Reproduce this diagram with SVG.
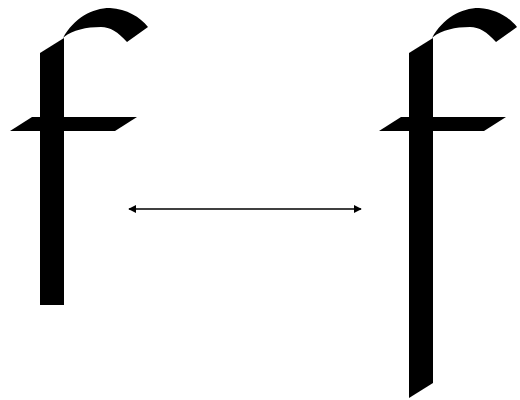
<svg xmlns="http://www.w3.org/2000/svg" width="520" height="400" viewBox="0 0 520 400">
<defs>
<style>.g{fill:#000;stroke:none}.c{stroke:#000;stroke-width:1.3;fill:none}</style>
<marker id="ah" viewBox="0 0 10 10" refX="9" refY="5" markerWidth="8" markerHeight="8" markerUnits="userSpaceOnUse" orient="auto-start-reverse"><path d="M0,0 L10,5 L0,10 Z" fill="#000"/></marker>
</defs>
<rect width="520" height="400" fill="#fff"/>
<g id="f-short">
<path class="g" d="M40,305 L40,53 L64,38 L64,305 Z"/>
<path class="g" d="M63,38 C74,18 92,8 110,8 C127,9 140,17 148,27 L127,42 C118,32 110,27 101,27 C86,27 73,30 64,37 Z"/>
<path class="g" d="M10,131 L32,117 L137,117 L115,131 Z"/>
</g>
<g id="f-long">
<path class="g" d="M409,398 L409,53 L433,38 L433,383 Z"/>
<path class="g" d="M432,38 C443,18 461,8 479,8 C496,9 509,17 517,27 L496,42 C487,32 479,27 470,27 C455,27 442,30 433,37 Z"/>
<path class="g" d="M379,131 L401,117 L506,117 L484,131 Z"/>
</g>
<g id="connectors">
<line class="c" x1="129" y1="209" x2="361" y2="209" marker-start="url(#ah)" marker-end="url(#ah)"/>
</g>
</svg>
